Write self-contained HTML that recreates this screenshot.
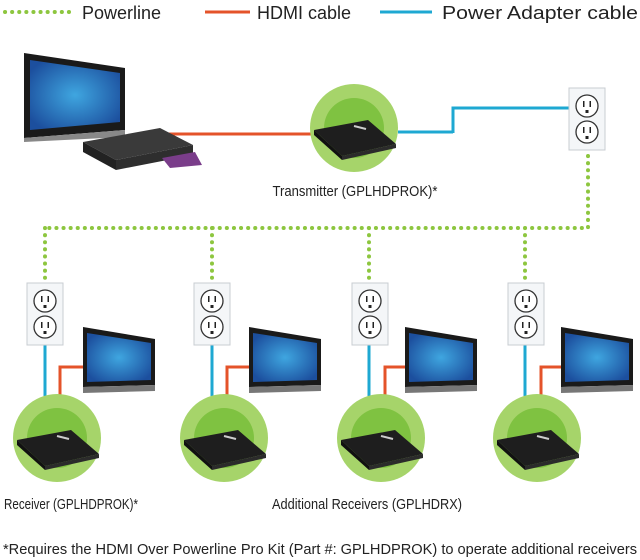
<!DOCTYPE html>
<html><head><meta charset="utf-8"><style>html,body{margin:0;padding:0;background:#fff}svg{display:block}</style></head><body>
<svg width="640" height="560" viewBox="0 0 640 560" xmlns="http://www.w3.org/2000/svg" font-family="Liberation Sans, sans-serif">
<defs>
<radialGradient id="scr" cx="50%" cy="50%" r="60%"><stop offset="0" stop-color="#3fa6e0"/><stop offset="1" stop-color="#1c4f9e"/></radialGradient>
<g id="outlet">
<rect x="0" y="0" width="36" height="62" fill="#f4f6f8" stroke="#c8cdd2"/>
<circle cx="18" cy="18" r="11" fill="#fff" stroke="#333" stroke-width="1.3"/>
<circle cx="18" cy="44" r="11" fill="#fff" stroke="#333" stroke-width="1.3"/>
<rect x="14" y="13" width="1.5" height="6" fill="#222"/><rect x="20.5" y="13" width="1.5" height="6" fill="#222"/><rect x="16.5" y="22" width="3" height="3" fill="#222"/>
<rect x="14" y="39" width="1.5" height="6" fill="#222"/><rect x="20.5" y="39" width="1.5" height="6" fill="#222"/><rect x="16.5" y="48" width="3" height="3" fill="#222"/>
</g>
<g id="dev">
<circle cx="0" cy="0" r="44" fill="#a6d46a"/>
<circle cx="0" cy="0" r="30" fill="#7fc241"/>
<polygon points="-40,2 14,-8 42,16 -12,28" fill="#1e1e1e"/>
<polygon points="-40,2 -12,28 -12,32 -40,7" fill="#111"/>
<polygon points="-12,28 42,16 42,20 -12,32" fill="#2b2b2b"/>
<line x1="0" y1="-2" x2="12" y2="1" stroke="#ccc" stroke-width="2"/>
</g>
<g id="tv">
<polygon points="0,0 72,12 72,58 0,60" fill="#1a1a1a"/>
<polygon points="4,6 68,16 68,53 4,55" fill="url(#scr)"/>
<polygon points="0,60 72,58 72,64 0,66" fill="#777"/>
</g>
</defs>
<line x1="5" y1="12" x2="75" y2="12" stroke="#8dc63f" stroke-width="4" stroke-dasharray="0.1 7" stroke-linecap="round"/>
<text x="82" y="19" font-size="18" fill="#222">Powerline</text>
<line x1="205" y1="12" x2="250" y2="12" stroke="#e4532a" stroke-width="3"/>
<text x="257" y="19" font-size="18" fill="#222">HDMI cable</text>
<line x1="380" y1="12" x2="432" y2="12" stroke="#1ea8d2" stroke-width="3"/>
<text x="442" y="19" font-size="18" fill="#222" textLength="196" lengthAdjust="spacingAndGlyphs">Power Adapter cable</text>
<polygon points="24,53 125,68 125,130 24,138" fill="#1a1a1a"/>
<polygon points="30,60 120,73 120,122 30,130" fill="url(#scr)"/>
<polygon points="24,138 125,130 125,137 24,142" fill="#888"/>
<line x1="165" y1="134" x2="315" y2="134" stroke="#e4532a" stroke-width="3"/>
<polygon points="83,142 160,128 193,145 116,160" fill="#3a3a3a"/>
<polygon points="83,142 116,160 116,170 83,152" fill="#222"/>
<polygon points="116,160 193,145 193,155 116,170" fill="#2e2e2e"/>
<polygon points="162,158 195,152 202,165 170,168" fill="#7a3d8a"/>
<line x1="398" y1="132" x2="453" y2="132" stroke="#1ea8d2" stroke-width="3"/>
<polyline points="453,133 453,108 570,108" fill="none" stroke="#1ea8d2" stroke-width="3"/>
<use href="#dev" x="354" y="128"/>
<use href="#outlet" x="569" y="88"/>
<text x="355" y="196" font-size="15" fill="#222" text-anchor="middle" textLength="165" lengthAdjust="spacingAndGlyphs">Transmitter (GPLHDPROK)*</text>
<path d="M588 156 V228 H45 M45 228 V282 M212 228 V282 M369 228 V282 M525 228 V282" fill="none" stroke="#8dc63f" stroke-width="4" stroke-dasharray="0.1 7" stroke-linecap="round"/>
<g>
<line x1="45" y1="345" x2="45" y2="396" stroke="#1ea8d2" stroke-width="3"/>
<polyline points="60,396 60,367 85,367" fill="none" stroke="#e4532a" stroke-width="3"/>
<use href="#outlet" x="27" y="283"/><use href="#tv" x="83" y="327"/><use href="#dev" x="57" y="438"/>
</g>
<g>
<line x1="212" y1="345" x2="212" y2="396" stroke="#1ea8d2" stroke-width="3"/>
<polyline points="227,396 227,367 252,367" fill="none" stroke="#e4532a" stroke-width="3"/>
<use href="#outlet" x="194" y="283"/><use href="#tv" x="249" y="327"/><use href="#dev" x="224" y="438"/>
</g>
<g>
<line x1="369" y1="345" x2="369" y2="396" stroke="#1ea8d2" stroke-width="3"/>
<polyline points="385,396 385,367 406,367" fill="none" stroke="#e4532a" stroke-width="3"/>
<use href="#outlet" x="352" y="283"/><use href="#tv" x="405" y="327"/><use href="#dev" x="381" y="438"/>
</g>
<g>
<line x1="525" y1="345" x2="525" y2="396" stroke="#1ea8d2" stroke-width="3"/>
<polyline points="541,396 541,367 562,367" fill="none" stroke="#e4532a" stroke-width="3"/>
<use href="#outlet" x="508" y="283"/><use href="#tv" x="561" y="327"/><use href="#dev" x="537" y="438"/>
</g>
<text x="4" y="509" font-size="15" fill="#222" textLength="134" lengthAdjust="spacingAndGlyphs">Receiver (GPLHDPROK)*</text>
<text x="272" y="509" font-size="15" fill="#222" textLength="190" lengthAdjust="spacingAndGlyphs">Additional Receivers (GPLHDRX)</text>
<text x="3" y="554" font-size="15" fill="#222" textLength="634" lengthAdjust="spacingAndGlyphs">*Requires the HDMI Over Powerline Pro Kit (Part #: GPLHDPROK) to operate additional receivers</text>
</svg>
</body></html>
